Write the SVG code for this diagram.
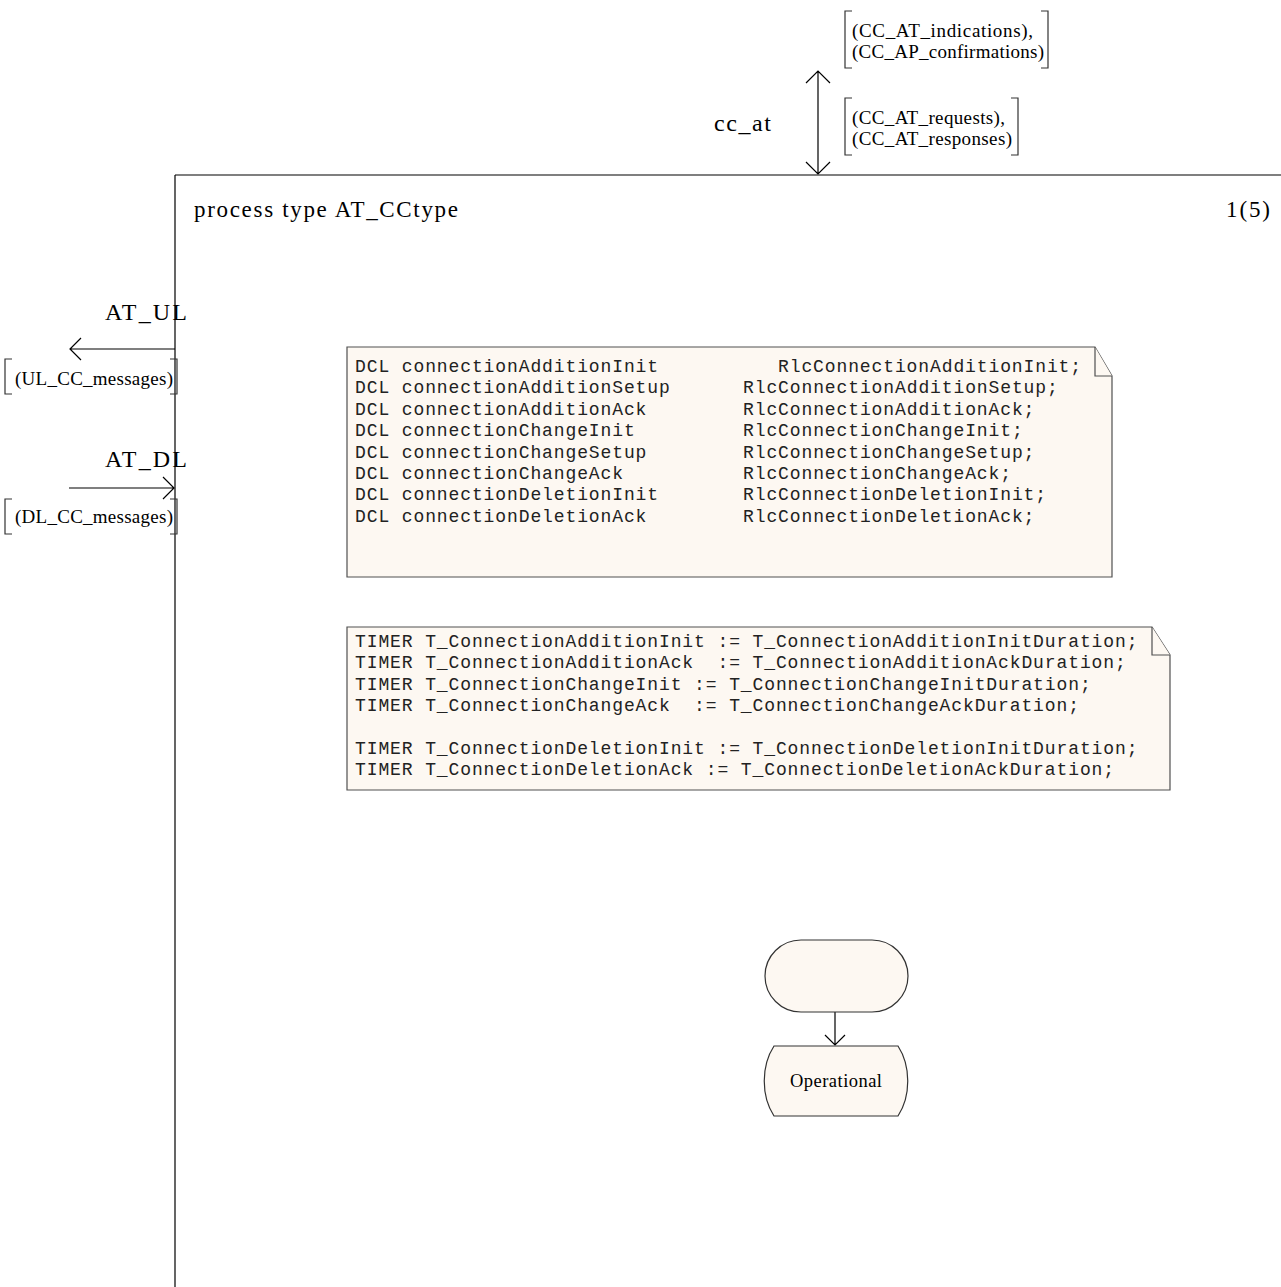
<svg xmlns="http://www.w3.org/2000/svg" width="1281" height="1287" viewBox="0 0 1281 1287">
<style>
.serif{font-family:"Liberation Serif","Times New Roman",serif;fill:#000}
.mono{font-family:"Liberation Mono","Courier New",monospace;font-size:18px;letter-spacing:0.89px;fill:#222;white-space:pre}
.lbl{font-size:24px}
.sig{font-size:19px}
.note{fill:#fdf8f2;stroke:#505050;stroke-width:1.2}
.sym{fill:#fdf8f2;stroke:#333;stroke-width:1.2}
.ln{fill:none;stroke:#000;stroke-width:1.2}
.br{fill:none;stroke:#333;stroke-width:1.2}
</style>
<rect width="1281" height="1287" fill="#fff"/>
<g id="frame">
<path class="ln" d="M175 175 H1281 M175 175 V1287"/>
<text class="serif" x="194" y="217" font-size="23" textLength="264" lengthAdjust="spacing">process type AT_CCtype</text>
<text class="serif" x="1226" y="217" font-size="23" textLength="44" lengthAdjust="spacing">1(5)</text>
</g>
<g id="connectors">
<path class="ln" d="M818 71 V174 M806 83 L818 71 L830 83 M806 162 L818 174 L830 162"/>
<path class="ln" d="M175 349 H70 M81 338 L70 349 L81 360"/>
<path class="ln" d="M69 488 H174 M163 477 L174 488 L163 499"/>
<path class="ln" d="M835 1012 V1045 M825 1035 L835 1045 L845 1035"/>
</g>
<g id="cc_at_labels">
<text class="serif lbl" x="714" y="131" textLength="57" lengthAdjust="spacing">cc_at</text>
<path class="br" d="M852 11 H845 V68 H852 M1041 11 H1048 V68 H1041"/>
<text class="serif sig" x="852" y="37" textLength="181" lengthAdjust="spacing">(CC_AT_indications),</text>
<text class="serif sig" x="852" y="58" textLength="192" lengthAdjust="spacing">(CC_AP_confirmations)</text>
<path class="br" d="M852 98 H845 V155 H852 M1011 98 H1018 V155 H1011"/>
<text class="serif sig" x="852" y="124" textLength="153" lengthAdjust="spacing">(CC_AT_requests),</text>
<text class="serif sig" x="852" y="145" textLength="160" lengthAdjust="spacing">(CC_AT_responses)</text>
</g>
<g id="at_ul_labels">
<text class="serif lbl" x="105" y="320" textLength="82" lengthAdjust="spacing">AT_UL</text>
<path class="br" d="M12 359 H5 V394 H12 M170 359 H177 V394 H170"/>
<text class="serif sig" x="15" y="385" textLength="158" lengthAdjust="spacing">(UL_CC_messages)</text>
</g>
<g id="at_dl_labels">
<text class="serif lbl" x="105" y="467" textLength="82" lengthAdjust="spacing">AT_DL</text>
<path class="br" d="M12 499 H5 V534 H12 M170 499 H177 V534 H170"/>
<text class="serif sig" x="15" y="523" textLength="158" lengthAdjust="spacing">(DL_CC_messages)</text>
</g>
<g id="dcl_note">
<path class="note" d="M347 347 H1095 L1112 376 V577 H347 Z"/>
<path class="note" d="M1095 347 V376 H1112"/>
<text class="mono"><tspan x="355" y="372">DCL connectionAdditionInit</tspan><tspan x="355" y="393.4">DCL connectionAdditionSetup</tspan><tspan x="355" y="414.8">DCL connectionAdditionAck</tspan><tspan x="355" y="436.2">DCL connectionChangeInit</tspan><tspan x="355" y="457.6">DCL connectionChangeSetup</tspan><tspan x="355" y="479">DCL connectionChangeAck</tspan><tspan x="355" y="500.4">DCL connectionDeletionInit</tspan><tspan x="355" y="521.8">DCL connectionDeletionAck</tspan></text>
<text class="mono"><tspan x="778" y="372">RlcConnectionAdditionInit;</tspan><tspan x="743" y="393.4">RlcConnectionAdditionSetup;</tspan><tspan x="743" y="414.8">RlcConnectionAdditionAck;</tspan><tspan x="743" y="436.2">RlcConnectionChangeInit;</tspan><tspan x="743" y="457.6">RlcConnectionChangeSetup;</tspan><tspan x="743" y="479">RlcConnectionChangeAck;</tspan><tspan x="743" y="500.4">RlcConnectionDeletionInit;</tspan><tspan x="743" y="521.8">RlcConnectionDeletionAck;</tspan></text>
</g>
<g id="timer_note">
<path class="note" d="M347 627 H1152 L1170 655 V790 H347 Z"/>
<path class="note" d="M1152 627 V655 H1170"/>
<text class="mono" xml:space="preserve"><tspan x="355" y="647">TIMER T_ConnectionAdditionInit := T_ConnectionAdditionInitDuration;</tspan><tspan x="355" y="668.4">TIMER T_ConnectionAdditionAck  := T_ConnectionAdditionAckDuration;</tspan><tspan x="355" y="689.8">TIMER T_ConnectionChangeInit := T_ConnectionChangeInitDuration;</tspan><tspan x="355" y="711.2">TIMER T_ConnectionChangeAck  := T_ConnectionChangeAckDuration;</tspan><tspan x="355" y="754">TIMER T_ConnectionDeletionInit := T_ConnectionDeletionInitDuration;</tspan><tspan x="355" y="775.4">TIMER T_ConnectionDeletionAck := T_ConnectionDeletionAckDuration;</tspan></text>
</g>
<g id="start">
<rect class="sym" x="765" y="940" width="143" height="72" rx="36" ry="36"/>
</g>
<g id="state_operational">
<path class="sym" d="M774 1046 H898 C911 1066 911 1096 898 1116 H774 C761 1096 761 1066 774 1046 Z"/>
<text class="serif" x="790" y="1087" font-size="18.5" textLength="92" lengthAdjust="spacing">Operational</text>
</g>
</svg>
